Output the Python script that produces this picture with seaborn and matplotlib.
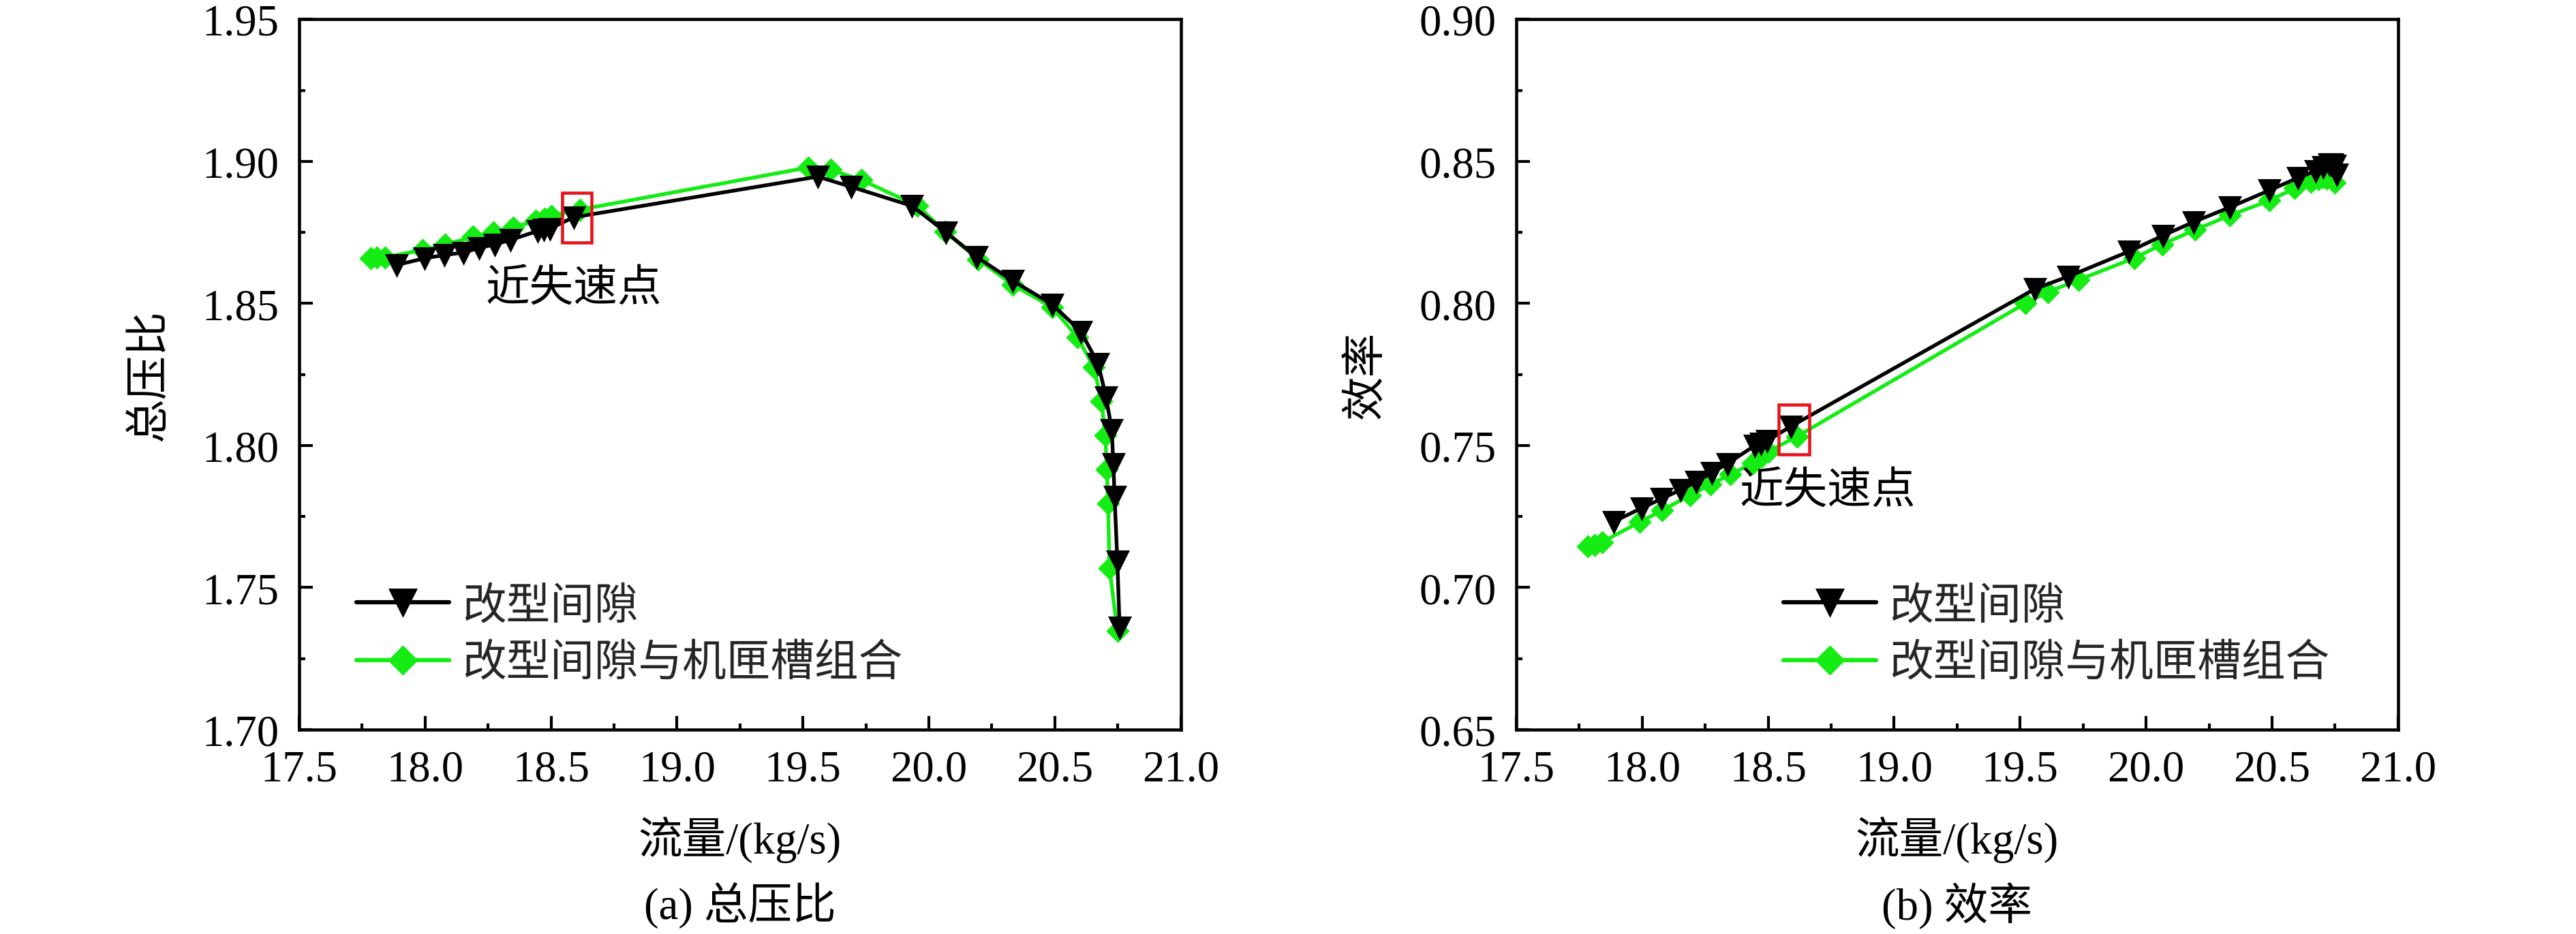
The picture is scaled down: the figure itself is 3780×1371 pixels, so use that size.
import matplotlib
matplotlib.use("Agg")
import matplotlib.pyplot as plt
from matplotlib.patches import Rectangle
from matplotlib.ticker import MultipleLocator, FormatStrFormatter
import pandas as pd
import seaborn as sns

# mass flow (kg/s) of each operating point, shared by both panels
flow_gap = [17.887, 17.999, 18.076, 18.153, 18.214, 18.276, 18.338, 18.448,
            18.472, 18.495, 18.590, 19.559, 19.692, 19.933, 20.068, 20.190,
            20.332, 20.490, 20.603, 20.672, 20.703, 20.726, 20.732, 20.737,
            20.748, 20.757]
pr_gap = [1.8635, 1.8659, 1.8670, 1.8679, 1.8695, 1.8707, 1.8723, 1.8755,
          1.8760, 1.8763, 1.8803, 1.8946, 1.8910, 1.8843, 1.8750, 1.8663,
          1.8580, 1.8496, 1.8401, 1.8287, 1.8171, 1.8055, 1.7935, 1.7820,
          1.7592, 1.7360]
eff_gap = [0.7232, 0.7280, 0.7312, 0.7344, 0.7372, 0.7404, 0.7436, 0.7500,
           0.7507, 0.7516, 0.7567, 0.8051, 0.8095, 0.8183, 0.8239, 0.8287,
           0.8338, 0.8398, 0.8442, 0.8466, 0.8480, 0.8489, 0.8491, 0.8490,
           0.8486, 0.8455]

flow_combo = [17.785, 17.810, 17.840, 17.990, 18.080, 18.190, 18.270, 18.350,
              18.440, 18.475, 18.500, 18.615, 19.520, 19.610, 19.733, 19.955,
              20.065, 20.195, 20.333, 20.490, 20.590, 20.655, 20.685, 20.700,
              20.706, 20.711, 20.717, 20.748]
pr_combo = [1.8660, 1.8661, 1.8662, 1.8688, 1.8706, 1.8735, 1.8750, 1.8768,
            1.8790, 1.8798, 1.8808, 1.8830, 1.8978, 1.8970, 1.8934, 1.8843,
            1.8752, 1.8655, 1.8565, 1.8486, 1.8380, 1.8275, 1.8155, 1.8036,
            1.7916, 1.7796, 1.7568, 1.7348]
eff_combo = [0.7146, 0.7150, 0.7160, 0.7230, 0.7272, 0.7325, 0.7362, 0.7398,
             0.7438, 0.7462, 0.7478, 0.7532, 0.8000, 0.8040, 0.8083, 0.8160,
             0.8208, 0.8259, 0.8310, 0.8362, 0.8405, 0.8428, 0.8438, 0.8444,
             0.8446, 0.8445, 0.8440, 0.8425]

label_gap = "改型间隙"
label_combo = "改型间隙与机匣槽组合"
near_stall = "近失速点"

sns.set_theme(style="ticks")
plt.rcParams['font.family'] = ['Liberation Serif', 'Noto Sans CJK SC', 'DejaVu Sans']
plt.rcParams['axes.unicode_minus'] = False

df_gap = pd.DataFrame({"flow": flow_gap, "pr": pr_gap, "eff": eff_gap})
df_combo = pd.DataFrame({"flow": flow_combo, "pr": pr_combo, "eff": eff_combo})

GREEN = "#14ec14"

fig = plt.figure(figsize=(12.6, 4.5733), dpi=300)
fig.patch.set_facecolor("white")
ax1 = fig.add_axes([0.1161, 0.2187, 0.3423, 0.760])
ax2 = fig.add_axes([0.5886, 0.2187, 0.3423, 0.760])

FS = 15.5
panels = [
    (ax1, "pr", "总压比", (1.70, 1.95), "(a) 总压比",
     (18.545, 1.8715, 0.115, 0.0175), (18.24, 1.8550), (0.045, 0.038)),
    (ax2, "eff", "效率", (0.65, 0.90), "(b) 效率",
     (18.543, 0.7468, 0.120, 0.0175), (18.387, 0.7337), (0.283, 0.038)),
]

for ax, col, ylab, ylim, cap, rect, txt, legpos in panels:
    sns.lineplot(data=df_gap, x="flow", y=col, ax=ax, sort=False, estimator=None,
                 color="black", lw=1.3, marker="v", markersize=7,
                 markeredgecolor="black", label=label_gap, zorder=4)
    sns.lineplot(data=df_combo, x="flow", y=col, ax=ax, sort=False, estimator=None,
                 color=GREEN, lw=1.3, marker="D", markersize=5.2,
                 markeredgecolor=GREEN, label=label_combo, zorder=3)
    ax.set_xlim(17.5, 21.0)
    ax.set_ylim(*ylim)
    ax.xaxis.set_major_locator(MultipleLocator(0.5))
    ax.xaxis.set_minor_locator(MultipleLocator(0.25))
    ax.yaxis.set_major_locator(MultipleLocator(0.05))
    ax.yaxis.set_minor_locator(MultipleLocator(0.025))
    ax.xaxis.set_major_formatter(FormatStrFormatter("%.1f"))
    ax.yaxis.set_major_formatter(FormatStrFormatter("%.2f"))
    ax.tick_params(which="both", direction="in", top=False, right=False,
                   width=1.0, labelsize=FS, colors="black", pad=7)
    ax.tick_params(which="major", length=4.8)
    ax.tick_params(which="minor", length=2.2)
    for sp in ax.spines.values():
        sp.set_linewidth(1.1)
        sp.set_color("black")
    ax.set_xlabel("流量/(kg/s)", fontsize=FS, color="black", labelpad=9)
    ax.set_ylabel(ylab, fontsize=FS, color="black", labelpad=11)
    ax.add_patch(Rectangle(rect[:2], rect[2], rect[3], fill=False,
                           edgecolor="#e8141c", lw=1.1, zorder=5))
    ax.text(txt[0], txt[1], near_stall, fontsize=FS, ha="left", va="center",
            color="black")
    leg = ax.legend(loc="lower left", bbox_to_anchor=legpos, frameon=False,
                    fontsize=FS, handlelength=2.1, handletextpad=0.3,
                    labelspacing=0.38, borderaxespad=0, numpoints=1,
                    markerscale=1.3)
    for h in leg.legend_handles:
        h.set_linewidth(1.5)
    pos = ax.get_position()
    fig.text((pos.x0 + pos.x1) / 2, 0.031, cap, fontsize=FS, ha="center",
             va="center", color="black")

fig.savefig("out.png", dpi=300, facecolor="white")
